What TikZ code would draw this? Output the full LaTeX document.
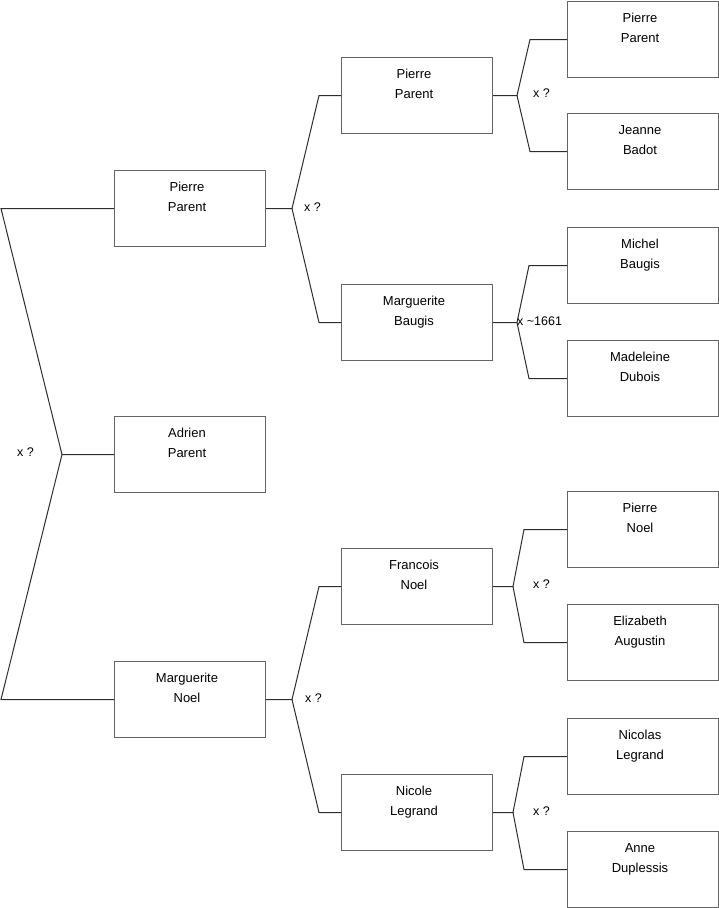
\documentclass[tikz,border=0pt]{standalone}
\usepackage{fontspec}
\setmainfont{Liberation Sans}
\usepackage{tikz}
\usetikzlibrary{positioning, calc}
\definecolor{boxgray}{RGB}{100, 100, 100}
\definecolor{linkgray}{RGB}{45, 45, 45}
\newcommand{\who}[2]{\parbox[t][76pt][t]{151pt}{\centering\rightskip=6pt plus 1fil\fontsize{13}{20}\selectfont\rule{0pt}{21pt}#1\\#2}}
\tikzset{
  person/.style={draw=boxgray, line width=1pt, inner sep=0pt, anchor=north west},
  link/.style={draw=linkgray, line width=1pt},
  union/.style={inner sep=0pt, font=\fontsize{12.5}{15}\selectfont}
}
\begin{document}
\begin{tikzpicture}[x=1pt, y=-1pt]
    \useasboundingbox (0,0) rectangle (719,908);

    % generation 0 and 1
    \node (a0) [person] at (114,416) {\who{Adrien}{Parent}};
    \node (f1) [person] at (114,170) {\who{Pierre}{Parent}};
    \node (m1) [person] at (114,661) {\who{Marguerite}{Noel}};

    % generation 2
    \node (ff2) [person] at (341,57) {\who{Pierre}{Parent}};
    \node (fm2) [person] at (341,284) {\who{Marguerite}{Baugis}};
    \node (mf2) [person] at (341,548) {\who{Francois}{Noel}};
    \node (mm2) [person] at (341,774) {\who{Nicole}{Legrand}};

    % generation 3
    \node (fff3) [person] at (567,1) {\who{Pierre}{Parent}};
    \node (ffm3) [person] at (567,113) {\who{Jeanne}{Badot}};
    \node (fmf3) [person] at (567,227) {\who{Michel}{Baugis}};
    \node (fmm3) [person] at (567,340) {\who{Madeleine}{Dubois}};
    \node (mff3) [person] at (567,491) {\who{Pierre}{Noel}};
    \node (mfm3) [person] at (567,604) {\who{Elizabeth}{Augustin}};
    \node (mmf3) [person] at (567,718) {\who{Nicolas}{Legrand}};
    \node (mmm3) [person] at (567,831) {\who{Anne}{Duplessis}};

    % unions
    \coordinate (c0) at ($(a0.west)+(-52,0)$);
    \coordinate (cf1) at ($(f1.east)+(26,0)$);
    \coordinate (cm1) at ($(m1.east)+(26,0)$);
    \coordinate (cff2) at ($(ff2.east)+(24,0)$);
    \coordinate (cfm2) at ($(fm2.east)+(24,0)$);
    \coordinate (cmf2) at ($(mf2.east)+(20,0)$);
    \coordinate (cmm2) at ($(mm2.east)+(20,0)$);

    \draw[link] (f1.west) -- ++(-113,0) -- (c0) -- (a0.west);
    \draw[link] (m1.west) -- ++(-113,0) -- (c0);

    \draw[link] (f1.east) -- (cf1) -- ($(ff2.west)+(-22,0)$) -- (ff2.west);
    \draw[link] (cf1) -- ($(fm2.west)+(-22,0)$) -- (fm2.west);
    \draw[link] (m1.east) -- (cm1) -- ($(mf2.west)+(-22,0)$) -- (mf2.west);
    \draw[link] (cm1) -- ($(mm2.west)+(-22,0)$) -- (mm2.west);

    \draw[link] (ff2.east) -- (cff2) -- ($(fff3.west)+(-37,0)$) -- (fff3.west);
    \draw[link] (cff2) -- ($(ffm3.west)+(-37,0)$) -- (ffm3.west);
    \draw[link] (fm2.east) -- (cfm2) -- ($(fmf3.west)+(-38,0)$) -- (fmf3.west);
    \draw[link] (cfm2) -- ($(fmm3.west)+(-38,0)$) -- (fmm3.west);
    \draw[link] (mf2.east) -- (cmf2) -- ($(mff3.west)+(-43,0)$) -- (mff3.west);
    \draw[link] (cmf2) -- ($(mfm3.west)+(-43,0)$) -- (mfm3.west);
    \draw[link] (mm2.east) -- (cmm2) -- ($(mmf3.west)+(-43,0)$) -- (mmf3.west);
    \draw[link] (cmm2) -- ($(mmm3.west)+(-43,0)$) -- (mmm3.west);

    \node (l0) [union, anchor=base east] at ($(c0)+(-28,2)$) {x ?};
    \node (lf1) [union, anchor=base west] at ($(cf1)+(12,3)$) {x ?};
    \node (lm1) [union, anchor=base west] at ($(cm1)+(13,3)$) {x ?};
    \node (lff2) [union, anchor=base west] at ($(cff2)+(16,2)$) {x ?};
    \node (lfm2) [union, anchor=base west] at ($(cfm2)+(0,3)$) {x \textasciitilde1661};
    \node (lmf2) [union, anchor=base west] at ($(cmf2)+(20,2)$) {x ?};
    \node (lmm2) [union, anchor=base west] at ($(cmm2)+(20,3)$) {x ?};
\end{tikzpicture}
\end{document}
